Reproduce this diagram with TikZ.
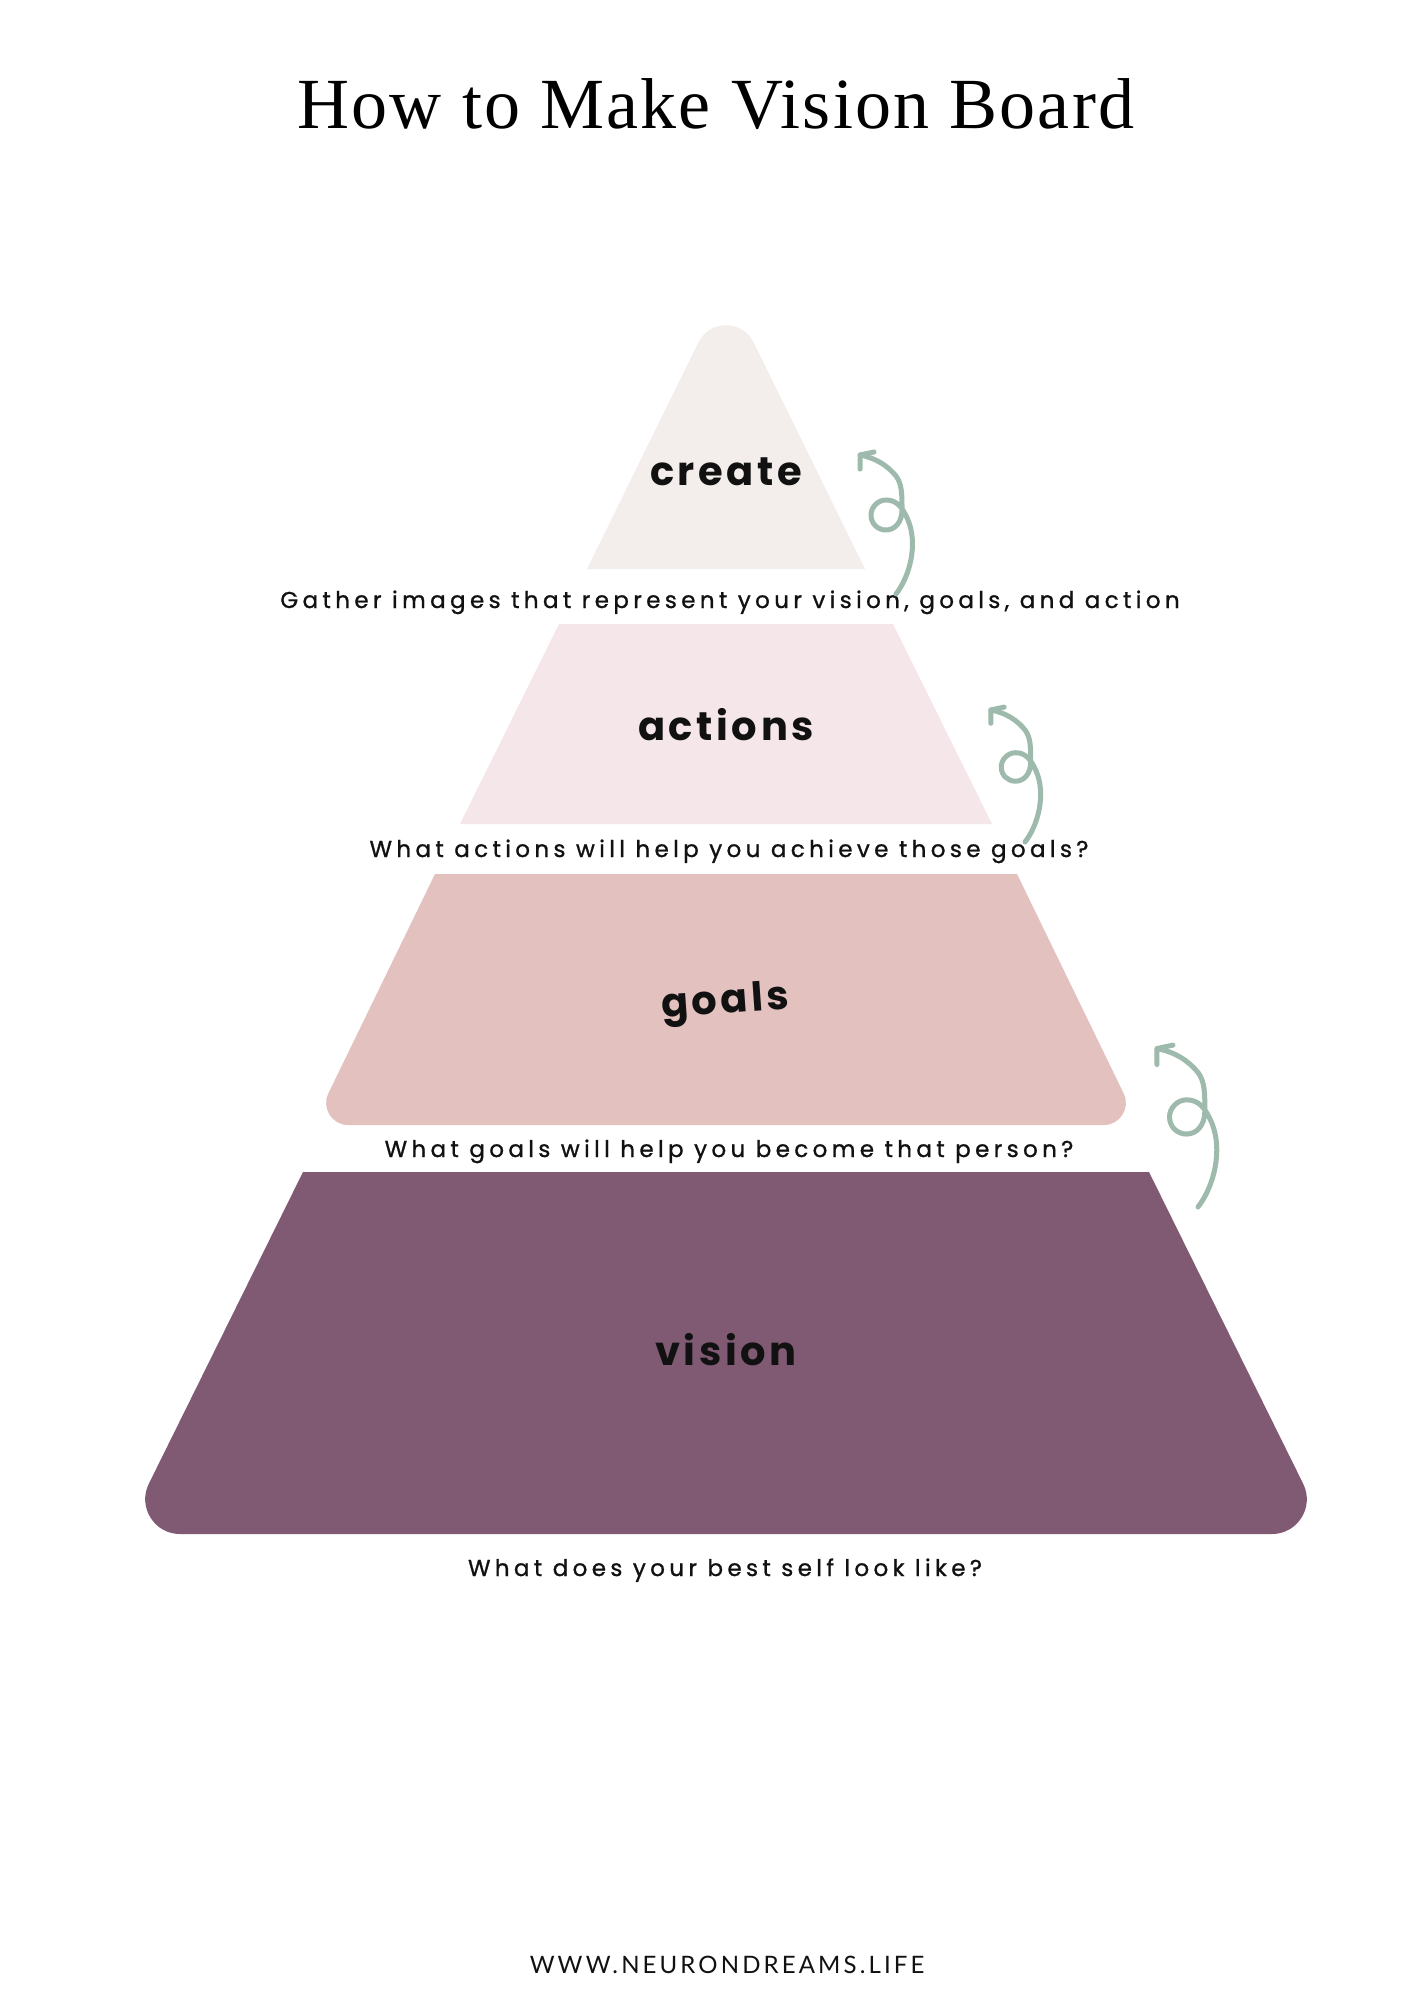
\documentclass[tikz,border=0pt]{standalone}
\usepackage{fontspec}
\setmainfont{Liberation Serif}
\newfontfamily\titlefont[LetterSpace=3]{Liberation Serif}
\newfontfamily\bodyfont[LetterSpace=19,FakeBold=1]{Poppins}
\newfontfamily\labelfont[LetterSpace=9]{Poppins}
\newfontfamily\footfont[LetterSpace=13]{Lato}
\definecolor{createC}{RGB}{243,238,236}
\definecolor{actionsC}{RGB}{245,230,233}
\definecolor{goalsC}{RGB}{227,193,190}
\definecolor{visionC}{RGB}{127,90,114}
\definecolor{arrowC}{RGB}{157,186,172}
\definecolor{inkC}{RGB}{17,17,17}
\tikzset{
  titletext/.style={anchor=base, inner sep=0pt, text=black, font=\titlefont\fontsize{72bp}{80bp}\selectfont},
  bodytext/.style={anchor=base, inner sep=0pt, text=inkC, font=\bodyfont\fontsize{23bp}{27bp}\selectfont},
  labeltext/.style={anchor=base, inner sep=0pt, text=inkC, font=\labelfont\bfseries\fontsize{40bp}{46bp}\selectfont},
  foottext/.style={anchor=base, inner sep=0pt, text=inkC, font=\footfont\fontsize{24bp}{28bp}\selectfont},
  arrowline/.style={draw=arrowC, line width=5bp, line cap=round, line join=round},
}
\newcommand\loopyarrow[2]{%
  \begin{scope}[shift={(#1)}, scale=#2]
    \draw[arrowline] (0,0) .. controls (14,-18) and (22,-50) .. (12,-74)
      .. controls (6,-88) and (0,-94) .. (-10,-94)
      .. controls (-18,-94) and (-25,-87) .. (-25,-79)
      .. controls (-25,-70) and (-18,-64) .. (-10,-64)
      .. controls (-1,-64) and (6,-72) .. (6,-84)
      .. controls (6,-100) and (6,-110) .. (0,-118)
      .. controls (-8,-128) and (-20,-136) .. (-36,-139);
    \draw[arrowline] (-22,-142) -- (-36,-139) -- (-36,-125);
  \end{scope}}
\begin{document}
\begin{tikzpicture}[x=1bp, y=-1bp]
  \useasboundingbox (0,0) rectangle (1414,2000);
  \fill[white] (0,0) rectangle (1414,2000);

  % title
  \node[titletext] (title) at (716,128) {How to Make Vision Board};

  % create (rounded apex triangle)
  \fill[createC] (587,569) -- (698.3,342.6)
     .. controls (709.7,319.4) and (742.3,319.4) .. (753.7,342.6)
     -- (865,569) -- cycle;
  % actions
  \fill[actionsC] (559,624) -- (893,624) -- (992,824) -- (460,824) -- cycle;
  % goals (rounded bottom corners)
  \fill[goalsC] (435,874) -- (1017,874) -- (1123.7,1093.5)
     .. controls (1130.7,1108.0) and (1120.1,1125) .. (1104,1125)
     -- (348,1125)
     .. controls (331.9,1125) and (321.3,1108.0) .. (328.3,1093.5) -- cycle;
  % vision (rounded bottom corners)
  \fill[visionC] (303,1172) -- (1149,1172) -- (1303.2,1483.8)
     .. controls (1314.6,1506.9) and (1297.8,1534) .. (1272,1534)
     -- (180,1534)
     .. controls (154.2,1534) and (137.4,1506.9) .. (148.8,1483.8) -- cycle;

  % labels
  \node[labeltext] (create) at (726,485) {create};
  \node[labeltext] (actions) at (726,740) {actions};
  \node[labeltext, rotate=4] (goals) at (726,1013) {goals};
  \node[labeltext] (vision) at (726,1365) {vision};

  % questions
  \node[bodytext] (q1) at (730,608) {Gather images that represent your vision, goals, and action};
  \node[bodytext] (q2) at (729,857) {What actions will help you achieve those goals?};
  \node[bodytext] (q3) at (729,1157) {What goals will help you become that person?};
  \node[bodytext] (q4) at (725,1576) {What does your best self look like?};

  % arrows
  \coordinate (t1) at (896,594);
  \coordinate (t2) at (1025,842);
  \coordinate (t3) at (1198,1207);
  \loopyarrow{t1}{1}
  \loopyarrow{t2}{0.95}
  \loopyarrow{t3}{1.14}

  % footer
  \node[foottext] (foot) at (727,1973) {WWW.NEURONDREAMS.LIFE};
\end{tikzpicture}
\end{document}
